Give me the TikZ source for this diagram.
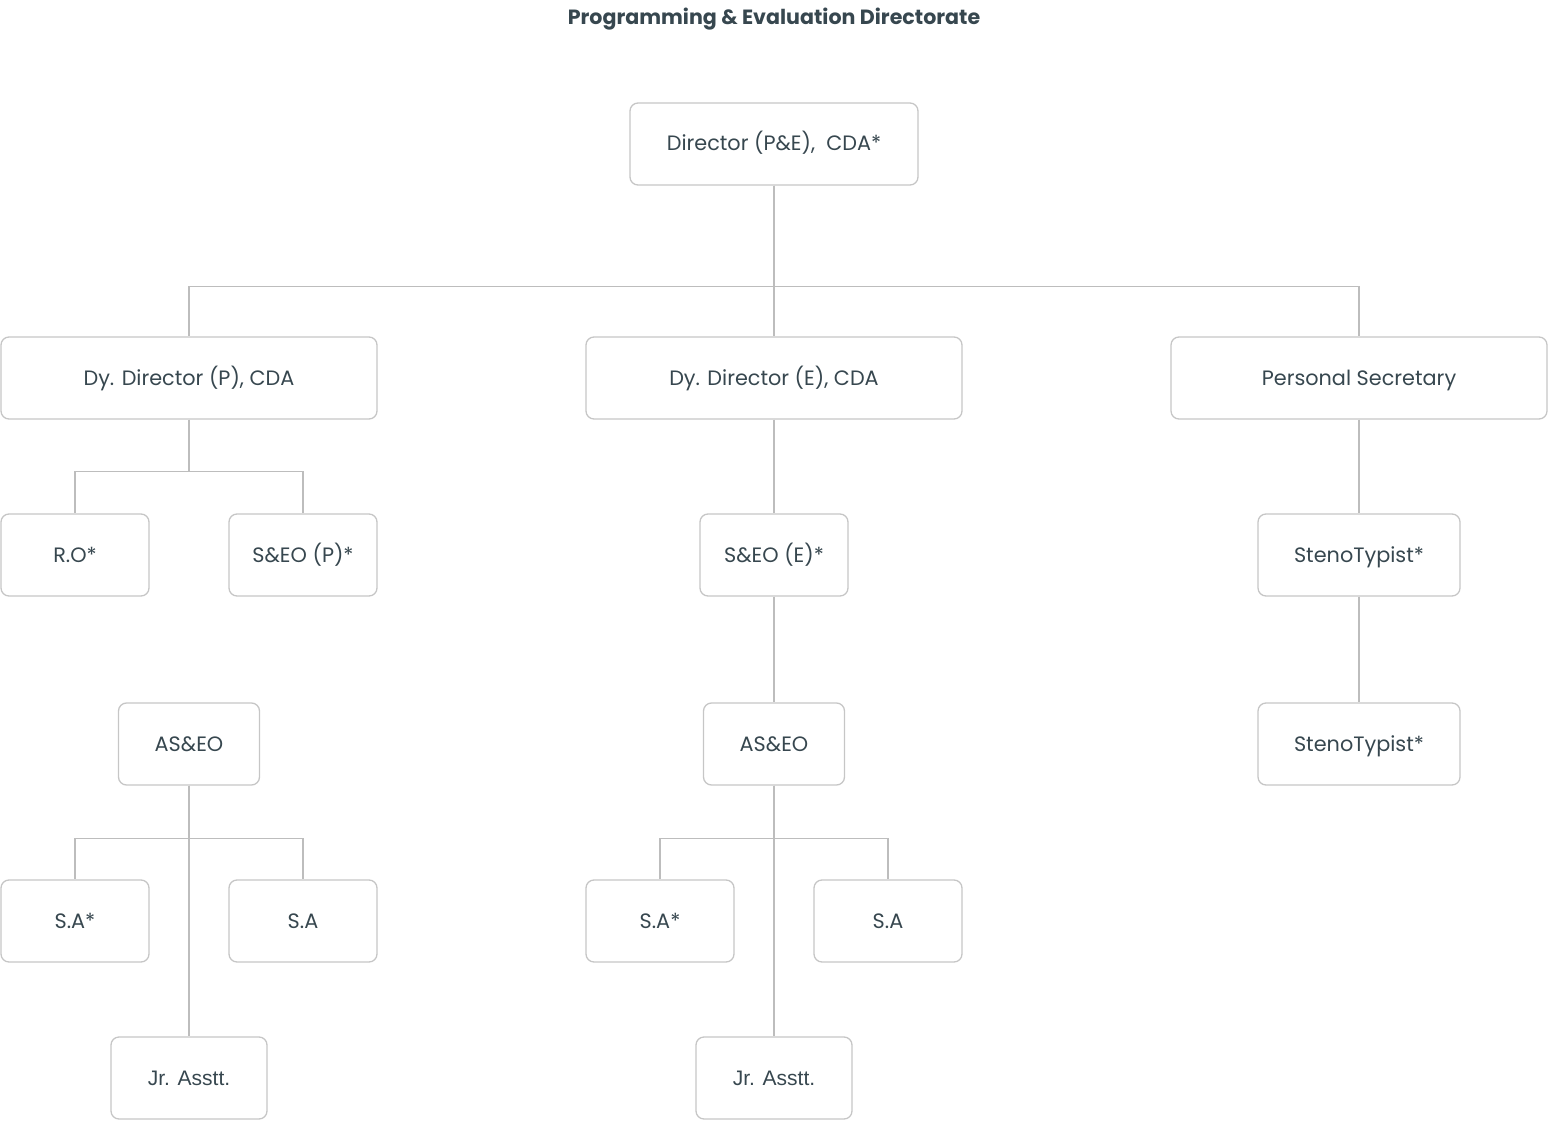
\documentclass[tikz,border=0pt]{standalone}
\usepackage{fontspec}
\setmainfont{Poppins}
\newfontfamily\jrfont{Liberation Sans}
\definecolor{inkgray}{HTML}{37474F}
\definecolor{boxgray}{HTML}{C6C6C6}
\definecolor{linegray}{HTML}{BDBDBD}
\begin{document}
\begin{tikzpicture}[x=1pt,y=-1pt,
  box/.style={draw=boxgray, line width=1.3pt, rounded corners=8pt, minimum height=82pt,
    inner sep=0pt, text=inkgray, text height=17pt, text depth=3pt,
    font=\fontsize{20.8}{25}\selectfont},
  link/.style={draw=linegray, line width=1.3pt}]
\useasboundingbox (0,0) rectangle (1548,1121);
\node[text=inkgray, font=\fontsize{20.6}{25}\selectfont\bfseries] (title) at (774,19) {Programming \& Evaluation Directorate};
% top
\node[box, minimum width=288pt] (dir) at (774,144) {Director (P\&E),~ CDA*};
% second row
\node[box, minimum width=376pt] (dyp) at (189,378) {Dy. Director (P), CDA};
\node[box, minimum width=376pt] (dye) at (774,378) {Dy. Director (E), CDA};
\node[box, minimum width=376pt] (ps) at (1359,378) {Personal Secretary};
% third row
\node[box, minimum width=148pt] (ro) at (75,555) {R.O*};
\node[box, minimum width=148pt] (seop) at (303,555) {S\&EO (P)*};
\node[box, minimum width=148pt] (seoe) at (774,555) {S\&EO (E)*};
\node[box, minimum width=202pt] (steno1) at (1359,555) {StenoTypist*};
% fourth row
\node[box, minimum width=141pt] (asp) at (189,744) {AS\&EO};
\node[box, minimum width=141pt] (ase) at (774,744) {AS\&EO};
\node[box, minimum width=202pt] (steno2) at (1359,744) {StenoTypist*};
% fifth row
\node[box, minimum width=148pt] (sap1) at (75,921) {S.A*};
\node[box, minimum width=148pt] (sap2) at (303,921) {S.A};
\node[box, minimum width=148pt] (sae1) at (660,921) {S.A*};
\node[box, minimum width=148pt] (sae2) at (888,921) {S.A};
% last row
\node[box, minimum width=156pt, font=\fontsize{21}{25}\selectfont\jrfont] (jrp) at (189,1078) {Jr. Asstt.};
\node[box, minimum width=156pt, font=\fontsize{21}{25}\selectfont\jrfont] (jre) at (774,1078) {Jr. Asstt.};
% connectors
\draw[link] (dir.south) -- ++(0,101) -| (dyp.north);
\draw[link] (dir.south) -- ++(0,101) -| (ps.north);
\draw[link] (dir.south) -- (dye.north);
\draw[link] (dyp.south) -- ++(0,52) -| (ro.north);
\draw[link] (dyp.south) -- ++(0,52) -| (seop.north);
\draw[link] (dye.south) -- (seoe.north);
\draw[link] (seoe.south) -- (ase.north);
\draw[link] (ps.south) -- (steno1.north);
\draw[link] (steno1.south) -- (steno2.north);
\draw[link] (asp.south) -- ++(0,53) -| (sap1.north);
\draw[link] (asp.south) -- ++(0,53) -| (sap2.north);
\draw[link] (asp.south) -- (jrp.north);
\draw[link] (ase.south) -- ++(0,53) -| (sae1.north);
\draw[link] (ase.south) -- ++(0,53) -| (sae2.north);
\draw[link] (ase.south) -- (jre.north);
\end{tikzpicture}
\end{document}
